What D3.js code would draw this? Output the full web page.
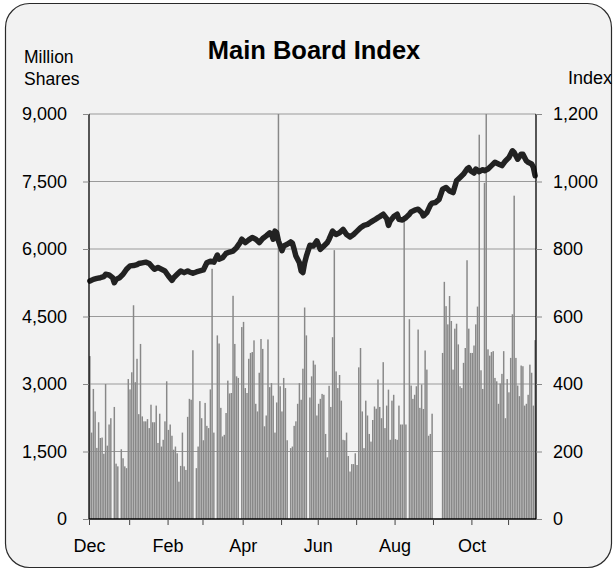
<!DOCTYPE html>
<html>
<head>
<meta charset="utf-8">
<script src="https://cdn.jsdelivr.net/npm/d3@7"></script>
<style>
  html, body { margin: 0; padding: 0; background: #ffffff; }
  svg { display: block; font-family: "Liberation Sans", Arial, sans-serif; }
</style>
</head>
<body>
<svg id="chart" width="616" height="574"></svg>
<script>
// ---------------- DATA ----------------
const startDate = "2003-12-01";            // first trading day shown
const volumeTicks = [0, 1500, 3000, 4500, 6000, 7500, 9000];
const indexTicks  = [0, 200, 400, 600, 800, 1000, 1200];
// Daily turnover (million shares), one entry per weekday; null = no trading
const volume = [
  3620,1920,2890,2390,1580,2150,1800,1810,1450,3000,1630,2100,2240,null,2490,1230,1170,null,1550,1350,
  1170,1130,3110,2880,3260,4750,3040,3560,2330,3890,2280,2170,2170,2220,2020,2540,2150,
  2150,2520,1690,2340,1610,1760,2170,3060,1980,2100,1850,1540,1610,1460,830,1180,1920,1170,1090,2270,
  2670,2650,3750,null,1130,1610,2620,2240,1750,2580,2070,2020,2880,5560,1920,null,
  4080,3900,2470,1835,1870,2355,3075,2790,2800,4960,3890,3170,3135,null,4265,4380,2910,2800,3560,3690,
  3710,3970,2560,2390,3250,4000,3780,2060,2300,3990,2930,3020,2740,1920,2590,9000,2950,2390,
  3135,2910,1750,null,1575,1610,2070,2170,2560,3020,2650,3340,4700,4080,null,2700,3170,3520,3430,2300,
  2560,2670,2780,2760,1890,1370,2960,2490,4040,5975,3280,2910,3200,2630,1760,1750,
  1920,1400,1055,1220,1220,1460,1200,3370,3800,2390,1575,2630,2300,1890,1720,2200,2500,2450,3100,2490,
  2240,3485,2020,2520,2875,1760,2630,2760,1775,1760,2520,2100,2100,6650,2100,null,4440,
  2965,2670,2760,2950,4210,2470,2990,2445,3745,3320,1850,1890,2340,null,null,null,null,null,3690,5270,
  4730,4325,4955,4400,3320,4230,4340,3880,2950,2910,3470,3800,5750,4230,3690,
  3690,3855,4325,4720,8540,3305,2890,7470,9000,3770,3630,3710,3730,3135,3060,2560,3010,3225,3730,2240,
  3110,2815,3580,4550,7185,3580,2965,2730,3410,3395,2520,2560,2760,3430,3250,2520,3975
];
// Index readings: trading-day number and index level
const indexDay = [0,2,4,6,8,9,11,13,14,15,17,19,21,23,25,27,28,30,32,34,36,37,39,41,43,45,47,48,50,52,54,56,57,59,61,63,65,67,69,71,73,74,76,78,80,82,84,86,87,89,91,93,95,97,99,101,103,104,105,106,107,108,110,111,113,115,116,117,118,120,121,122,123,124,126,128,130,132,134,136,137,139,141,143,145,147,149,151,153,155,157,159,161,163,165,166,168,170,171,172,174,176,177,179,181,183,184,186,188,190,191,193,195,196,198,200,202,204,206,208,210,212,214,216,217,218,220,221,223,225,226,228,230,232,234,236,238,240,242,243,245,247,248,250,251,253,254,255];
const indexValue = [705,710,713,715,718,725,723,715,700,710,715,725,740,750,751,754,757,759,761,757,745,740,745,740,735,720,707,715,725,735,730,735,732,728,732,735,738,759,764,761,782,770,774,787,791,794,804,819,829,819,827,834,829,819,831,839,848,843,829,853,848,824,795,809,814,821,817,799,779,759,735,730,759,779,811,809,824,799,809,819,829,853,843,848,858,843,836,843,853,863,870,873,880,886,893,896,903,890,870,883,896,903,888,886,893,903,910,915,918,908,898,908,930,936,938,947,977,982,972,967,1002,1012,1022,1037,1041,1032,1025,1037,1029,1035,1032,1037,1047,1057,1052,1047,1061,1071,1091,1086,1066,1081,1081,1061,1057,1052,1042,1017];
const titleText = "Main Board Index";

// ---------------- LAYOUT ----------------
const svg = d3.select("#chart");
const plot = { left: 89, right: 536, top: 114, bottom: 519 };
const FONT = "Liberation Sans, Arial, sans-serif";

// weekday dates for each entry
const dates = [];
{
  let d = new Date(startDate + "T00:00:00");
  while (dates.length < volume.length) {
    const wd = d.getDay();
    if (wd !== 0 && wd !== 6) dates.push(new Date(d));
    d.setDate(d.getDate() + 1);
  }
}

const x = d3.scaleLinear().domain([0, volume.length]).range([plot.left, plot.right]);
const yV = d3.scaleLinear().domain([0, 9000]).range([plot.bottom, plot.top]);
const yI = d3.scaleLinear().domain([0, 1200]).range([plot.bottom, plot.top]);
const step = x(1) - x(0);

// frame
svg.append("rect")
  .attr("x", 5.5).attr("y", 3.5).attr("width", 606).attr("height", 564)
  .attr("rx", 24).attr("ry", 24)
  .attr("fill", "#f2f2f2").attr("stroke", "#2a2a2a").attr("stroke-width", 1.2);

// gridlines
svg.append("g").selectAll("line").data(volumeTicks.filter(v => v > 0)).join("line")
  .attr("x1", plot.left).attr("x2", plot.right)
  .attr("y1", d => yV(d)).attr("y2", d => yV(d))
  .attr("stroke", "#9a9a9a").attr("stroke-width", 1.2);

// bars
svg.append("g").selectAll("rect")
  .data(volume.map((v, i) => ({ v, i })).filter(d => d.v != null))
  .join("rect")
  .attr("x", d => x(d.i) + step * 0.08)
  .attr("width", step * 0.84)
  .attr("y", d => yV(d.v))
  .attr("height", d => yV(0) - yV(d.v))
  .attr("fill", "#888888");

// index line
const line = d3.line()
  .x((d, k) => x(d) + step / 2)
  .y((d, k) => yI(indexValue[k]))
  .curve(d3.curveLinear);
svg.append("path")
  .attr("d", line(indexDay))
  .attr("fill", "none")
  .attr("stroke", "#222")
  .attr("stroke-width", 5.5)
  .attr("stroke-linejoin", "round")
  .attr("stroke-linecap", "round");

// left axis
const fmt = d3.format(",");
const leftAxis = d3.axisLeft(yV).tickValues(volumeTicks).tickFormat(fmt).tickSize(6).tickPadding(16);
const gL = svg.append("g").attr("transform", `translate(${plot.left},0)`).call(leftAxis);
gL.select(".domain").attr("stroke", "#000").attr("stroke-width", 1.3).attr("d", `M0,${plot.top}V${plot.bottom}`);
gL.selectAll(".tick line").attr("stroke", "#888");
gL.selectAll(".tick text").attr("font-size", 18).attr("fill", "#000").attr("font-family", FONT);

// right axis
const rightAxis = d3.axisRight(yI).tickValues(indexTicks).tickFormat(fmt).tickSize(6).tickPadding(11);
const gR = svg.append("g").attr("transform", `translate(${plot.right},0)`).call(rightAxis);
gR.select(".domain").attr("stroke", "#000").attr("stroke-width", 1.3).attr("d", `M0,${plot.top}V${plot.bottom}`);
gR.selectAll(".tick line").attr("stroke", "#888");
gR.selectAll(".tick text").attr("font-size", 18).attr("fill", "#000").attr("font-family", FONT);

// bottom axis: ticks at month starts
const monthStarts = [];
dates.forEach((d, i) => {
  if (i === 0 || d.getMonth() !== dates[i - 1].getMonth()) monthStarts.push(i);
});
const bottomAxis = d3.axisBottom(x).tickValues(monthStarts).tickSize(6).tickPadding(14)
  .tickFormat((d, k) => k % 2 === 0 ? d3.timeFormat("%b")(dates[d]) : "");
const gB = svg.append("g").attr("transform", `translate(0,${plot.bottom})`).call(bottomAxis);
gB.select(".domain").attr("stroke", "#000").attr("stroke-width", 1.3).attr("d", `M${plot.left},0H${plot.right}`);
gB.selectAll(".tick line").attr("stroke", "#444");
gB.selectAll(".tick text").attr("font-size", 18).attr("fill", "#000").attr("font-family", FONT);

// titles
svg.append("text").attr("x", 314).attr("y", 59).attr("text-anchor", "middle")
  .attr("font-size", 25.5).attr("font-weight", "bold").attr("font-family", FONT).text(titleText);
svg.append("text").attr("x", 24).attr("y", 63).attr("font-size", 17.5).attr("font-family", FONT).text("Million");
svg.append("text").attr("x", 24).attr("y", 85).attr("font-size", 17.5).attr("font-family", FONT).text("Shares");
svg.append("text").attr("x", 612).attr("y", 84).attr("text-anchor", "end").attr("font-size", 18).attr("font-family", FONT).text("Index");
</script>
</body>
</html>
